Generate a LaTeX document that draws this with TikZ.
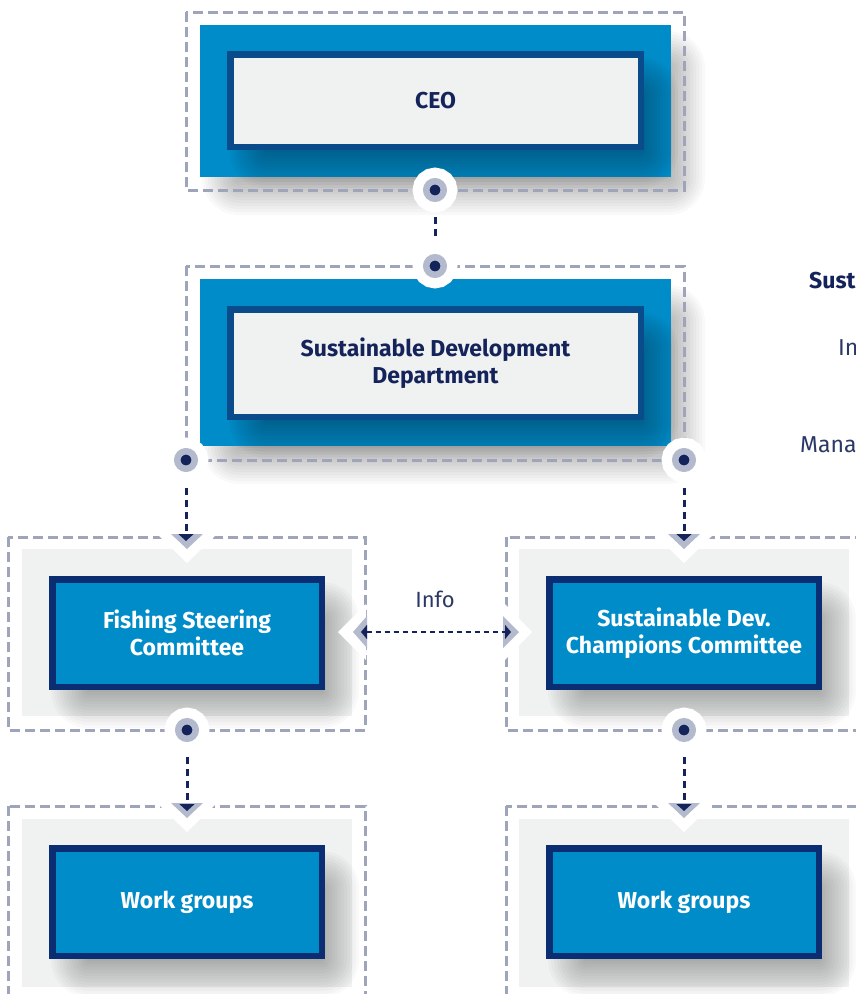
\documentclass[tikz,border=0pt]{standalone}
\usepackage{fontspec}
\setmainfont{Fira Sans}
\usetikzlibrary{arrows.meta,calc}
\definecolor{cblue}{HTML}{008CC8}
\definecolor{cgrey}{HTML}{F0F1F1}
\definecolor{cnavy}{HTML}{14235A}
\definecolor{ctext}{HTML}{2A3868}
\definecolor{cborder}{HTML}{0A4C8B}
\definecolor{cdark}{HTML}{0B2E72}
\definecolor{cdash}{HTML}{9EA4BA}
\definecolor{cring}{HTML}{B4BACD}
\pgfdeclarelayer{bgl}
\pgfdeclarelayer{shadowa}
\pgfdeclarelayer{panels}
\pgfdeclarelayer{shadowb}
\pgfsetlayers{bgl,shadowa,panels,shadowb,main}
% soft shadow of a named node: #1 = node, drawn on the current layer
\newcommand{\softshade}[1]{%
  \foreach \r [evaluate=\r as \rc using \r+1] in {0,3,...,36}{%
    \fill[black, fill opacity=0.022, rounded corners=\rc pt]
      ($(#1.south west)+(38-\r,2+\r)$) rectangle ($(#1.north east)+(-2+\r,42-\r)$);
  }}
\begin{document}
\begin{tikzpicture}[x=1pt,y=-1pt,
  outerdash/.style={draw=cdash, line width=3pt, dash pattern=on 10pt off 5pt},
  bluepanel/.style={rectangle, inner sep=0pt, outer sep=0pt, fill=cblue},
  greypanel/.style={rectangle, inner sep=0pt, outer sep=0pt, fill=cgrey},
  topbox/.style={rectangle, inner sep=0pt, draw=cborder, line width=6.5pt, fill=cgrey, text=cnavy,
    font=\fontsize{23}{27}\selectfont\bfseries, align=center},
  combox/.style={rectangle, inner sep=0pt, draw=cdark, line width=6.5pt, fill=cblue, text=white,
    font=\fontsize{23}{27}\selectfont\bfseries, align=center, minimum width=269.5pt, minimum height=107.5pt},
  dotnode/.style={circle, inner sep=0pt, minimum size=17.5pt, fill=cnavy, draw=cring, line width=6.5pt,
    preaction={draw=white, line width=27pt}},
  conn/.style={draw=cnavy, line width=3pt, dash pattern=on 7pt off 5pt, -{Triangle[width=15pt,length=7pt]}},
  infoconn/.style={draw=cnavy, line width=2.5pt, dash pattern=on 5pt off 4pt,
    {Triangle[width=14pt,length=6pt]}-{Triangle[width=14pt,length=6pt]}},
  whitetri/.style={fill=white},
  greytri/.style={fill=cring},
  sidebold/.style={text=cnavy, font=\fontsize{23}{27}\selectfont\bfseries, anchor=west, inner sep=0pt},
  sidereg/.style={text=ctext, font=\fontsize{23}{27}\selectfont, anchor=west, inner sep=0pt}
]
\useasboundingbox (0,0) rectangle (855,994);
\begin{pgfonlayer}{bgl}
\fill[white] (0,0) rectangle (855,994);
\end{pgfonlayer}

% panels
\begin{pgfonlayer}{panels}
\node[bluepanel, minimum width=471pt, minimum height=152pt] (ceopanel) at (435.5,101) {};
\node[bluepanel, minimum width=471pt, minimum height=167pt] (sddpanel) at (435.5,362.5) {};
\node[greypanel, minimum width=330pt, minimum height=167pt] (fishpanel) at (187,632.5) {};
\node[greypanel, minimum width=330pt, minimum height=167pt] (champpanel) at (684,632.5) {};
\node[greypanel, minimum width=330pt, minimum height=168pt] (wg1panel) at (187,903) {};
\node[greypanel, minimum width=330pt, minimum height=168pt] (wg2panel) at (684,903) {};
\end{pgfonlayer}
\begin{pgfonlayer}{shadowa}
\softshade{ceopanel}
\softshade{sddpanel}
\end{pgfonlayer}

% boxes
\node[topbox, minimum width=410.5pt, minimum height=92.5pt] (ceo) at (435.5,100.5) {CEO};
\node[topbox, minimum width=410.5pt, minimum height=107.5pt] (sdd) at (435.5,363) {Sustainable Development\\Department};
\node[combox] (fish) at (187,633) {Fishing Steering\\Committee};
\node[combox] (champ) at (684,633) {Sustainable Dev.\\Champions Committee};
\node[combox] (wg1) at (187,902) {Work groups};
\node[combox] (wg2) at (684,902) {Work groups};
\begin{pgfonlayer}{shadowb}
\softshade{ceo}
\softshade{sdd}
\softshade{fish}
\softshade{champ}
\softshade{wg1}
\softshade{wg2}
\end{pgfonlayer}

% outer dashed frames
\draw[outerdash] (186,12) rectangle (684,190);
\draw[outerdash] (186,266) rectangle (684,460);
\draw[outerdash] (8,537) rectangle (365,730);
\draw[outerdash] (506,537) rectangle (875,730);
\draw[outerdash] (8,806) rectangle (365,1010);
\draw[outerdash] (506,806) rectangle (875,1010);

% notches on committee / work group panels
\foreach \cx/\ly in {187/537, 684/537, 187/806, 684/806}{
  \fill[whitetri] (\cx-29,\ly-2) -- (\cx+29,\ly-2) -- (\cx,\ly+26) -- cycle;
  \fill[greytri] (\cx-16,\ly-3) -- (\cx+16,\ly-3) -- (\cx,\ly+12) -- cycle;
}
% notches for info
\fill[whitetri] (366,604) -- (366,660) -- (338,632) -- cycle;
\fill[greytri] (367,616) -- (367,648) -- (353,632) -- cycle;
\fill[whitetri] (505,604) -- (505,660) -- (532,632) -- cycle;
\fill[greytri] (503,616) -- (503,648) -- (519,632) -- cycle;

% connection dots
\node[dotnode] (d1) at (435,190) {};
\node[dotnode] (d2) at (435,266) {};
\node[dotnode] (d3) at (186,460) {};
\node[dotnode] (d4) at (684,460) {};
\node[dotnode] (d5) at (187,730) {};
\node[dotnode] (d6) at (684,730) {};

% arrow targets
\coordinate (t3) at (186,541);
\coordinate (t4) at (684,541);
\coordinate (t5) at (187,811);
\coordinate (t6) at (684,811);
\coordinate (infoL) at (361,632);
\coordinate (infoR) at (511,632);

% connectors
\draw[conn, -, shorten <=15pt, shorten >=14pt] (d1) -- (d2);
\draw[conn, shorten <=16pt] (d3) -- (t3);
\draw[conn, shorten <=16pt] (d4) -- (t4);
\draw[conn, shorten <=15pt] (d5) -- (t5);
\draw[conn, shorten <=15pt] (d6) -- (t6);
\draw[infoconn] (infoL) -- (infoR);
\node[text=ctext, font=\fontsize{22}{24}\selectfont] (info) at (435,599) {Info};

% cut-off side texts (cut at the picture's edge, as in the reference)
\node[sidebold] (s1) at (809,281) {Sust};
\node[sidereg] (s2) at (838,348) {In};
\node[sidereg] (s3) at (800,445) {Mana};
\end{tikzpicture}
\end{document}
